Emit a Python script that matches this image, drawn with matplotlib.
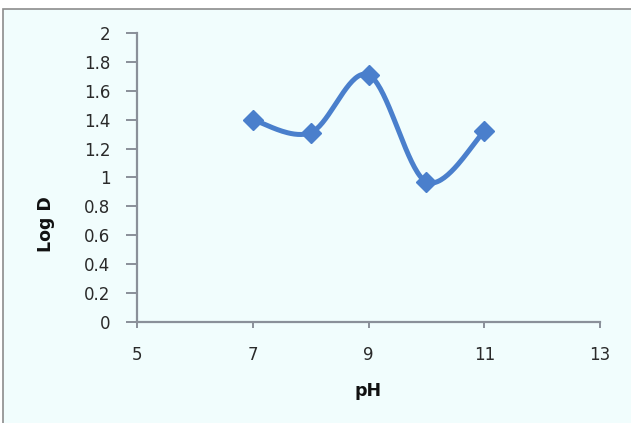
import numpy as np
import matplotlib
matplotlib.use("Agg")
import matplotlib.pyplot as plt
from matplotlib.patches import Rectangle

ph = [7, 8, 9, 10, 11]
log_d = [1.40, 1.31, 1.71, 0.97, 1.32]
xticks = [5, 7, 9, 11, 13]
yticks = [0, 0.2, 0.4, 0.6, 0.8, 1, 1.2, 1.4, 1.6, 1.8, 2]
ytick_labels = ["0", "0.2", "0.4", "0.6", "0.8", "1", "1.2", "1.4", "1.6", "1.8", "2"]

color = "#4a7fcc"
bg = "#f1fdfd"
axis_col = "#8a9099"

def excel_smooth(x, y, n=40):
    P = np.column_stack([x, y]).astype(float)
    Pe = np.vstack([P[0], P, P[-1]])
    out = []
    for i in range(len(P) - 1):
        p0, p1, p2, p3 = Pe[i], Pe[i + 1], Pe[i + 2], Pe[i + 3]
        c1 = p1 + (p2 - p0) / 6.0
        c2 = p2 - (p3 - p1) / 6.0
        t = np.linspace(0, 1, n)[:, None]
        seg = ((1 - t) ** 3) * p1 + 3 * ((1 - t) ** 2) * t * c1 + 3 * (1 - t) * t ** 2 * c2 + t ** 3 * p2
        out.append(seg if i == 0 else seg[1:])
    c = np.vstack(out)
    return c[:, 0], c[:, 1]

fig = plt.figure(figsize=(6.31, 4.23), dpi=100)
fig.patch.set_facecolor("white")
fig.patches.append(Rectangle((3 / 631, -0.1), 1.2, 1 - 9 / 423 + 0.1, transform=fig.transFigure,
                             facecolor=bg, edgecolor="#8c8c8c", linewidth=1.2, zorder=-5))

ax = fig.add_axes([137 / 631, 1 - 322 / 423, (600 - 137) / 631, (322 - 33) / 423])
ax.set_zorder(2)
ax.set_facecolor("none")
sx, sy = excel_smooth(ph, log_d)
ax.plot(sx, sy, color=color, linewidth=3.6, solid_capstyle="round", zorder=3)
ax.plot(ph, log_d, linestyle="none", marker="D", markersize=10, color=color, zorder=4)

ax.set_xlim(5, 13)
ax.set_ylim(0, 2)
ax.set_xticks(xticks)
ax.set_yticks(yticks)
ax.set_yticklabels(ytick_labels)
for s in ["top", "right"]:
    ax.spines[s].set_visible(False)
for s in ["left", "bottom"]:
    ax.spines[s].set_color(axis_col)
    ax.spines[s].set_linewidth(1.6)
ax.tick_params(axis="both", direction="out", width=1.4, color=axis_col,
               labelsize=12, labelcolor="#2a2a2a")
ax.tick_params(axis="y", length=8, pad=11)
ax.tick_params(axis="x", length=4.5, pad=13)
ax.set_xlabel("pH", fontsize=12.5, fontweight="bold", color="#111111", labelpad=13)
ax.set_ylabel("Log D", fontsize=12.5, fontweight="bold", color="#111111")
ax.yaxis.set_label_coords(-0.178, 0.34)

fig.savefig("out.png", dpi=100, facecolor=fig.get_facecolor())
